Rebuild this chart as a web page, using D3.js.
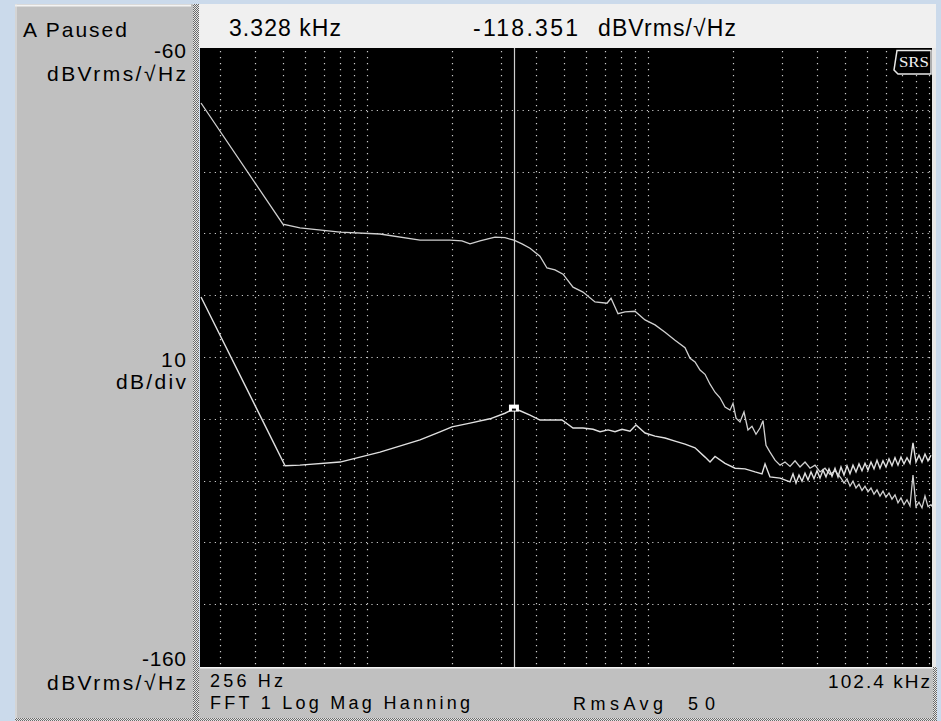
<!DOCTYPE html>
<html><head><meta charset="utf-8">
<script src="https://cdn.jsdelivr.net/npm/d3@7/dist/d3.min.js"></script>
<style>html,body{margin:0;padding:0;background:#cbdaeb;}svg{display:block;}</style>
</head><body>
<script>
// ---- data ----
const freqDomain = [256, 102400];
const dbDomain = [-60, -160];
const freqGrid = [300,400,500,600,700,800,900,1000,2000,3000,4000,5000,6000,7000,8000,9000,10000,20000,30000,40000,50000,60000,70000,80000,90000,100000];
const dbGrid = [-70,-80,-90,-100,-110,-120,-130,-140,-150];
const cursorFreq = 3328;
const cursorDb = -118.351;

const topFreq = [256,501,576,800,1110,1541,1970,2173,2322,2519,2849,3092,3328,3556,3797,4119,4363,4659,4977,5401,5860,6466,7137,7376,7810,8268,8975,9746,10578,11482,12462,13527,14093,14682,15296,15936,16602,17296,18020,18773,19558,20045,20549,21222,21931,22659,23414,24200,25006,25626,26270,27140,28283,29471,30700,31980,33320,34710,36170,37680,39250,40890,42600,44380,46240,48573,49782,51021,52291,53592,54926,56293,57694,59130,60602,62110,63656,65240,66864,68528,70234,71982,73774,75610,77492,79421,81398,83424,85500,87628,89809,92044,94335,96683,99090,101556,102400];
const topDb = [-68.9,-88.5,-89.1,-89.8,-90.1,-91.1,-91.1,-91.2,-91.7,-91.2,-90.6,-90.7,-91.1,-91.7,-92.4,-93.7,-95.6,-95.9,-96.6,-98.7,-99.5,-101.1,-101.3,-100.5,-103.0,-102.7,-102.6,-104.0,-104.8,-106.0,-107.3,-108.5,-110.2,-110.8,-112.1,-112.8,-114.4,-115.7,-116.6,-118.1,-118.6,-117.5,-119.9,-120.5,-118.9,-121.8,-121.2,-122.5,-121.5,-120.3,-124.3,-125.4,-126.7,-127.5,-127.0,-127.7,-126.8,-127.8,-127.0,-128.0,-127.5,-128.6,-128.0,-129.0,-128.4,-129.6,-130.4,-129.7,-130.9,-130.1,-131.2,-130.6,-131.6,-130.9,-131.8,-131.2,-132.2,-131.5,-132.5,-131.7,-132.7,-132.0,-133.0,-132.3,-133.6,-132.8,-133.9,-133.1,-134.1,-129.1,-134.2,-133.5,-134.4,-132.5,-134.2,-133.9,-134.2];

const botFreq = [256,510,576,800,1110,1541,1815,2003,2322,2735,3092,3328,3497,3797,4119,4473,4935,5401,5860,6364,6740,7197,7619,8069,8617,9050,9746,10578,11482,12462,13527,14682,15936,16602,17296,18773,20380,22120,24010,25420,26060,27140,29471,31980,32776,33592,34428,35285,36163,37063,37985,38931,39900,40893,41911,42954,44023,45119,46242,47393,48573,49782,51021,52291,53592,54926,56293,57694,59130,60602,62110,63656,65240,66864,68528,70234,71982,73774,75610,77492,79421,81398,83424,85500,87628,89809,92044,94335,96683,99090,101556];
const botDb = [-100.3,-127.6,-127.5,-127.0,-125.4,-123.4,-122.1,-121.3,-120.7,-120.0,-119.1,-118.4,-118.7,-119.4,-120.2,-120.2,-120.2,-121.5,-121.5,-121.7,-122.1,-121.8,-122.1,-121.7,-122.0,-121.0,-122.3,-122.8,-123.1,-123.6,-124.1,-124.7,-126.2,-127.0,-126.1,-127.2,-128.0,-128.1,-128.6,-128.9,-127.3,-129.4,-129.6,-130.2,-128.9,-130.4,-129.1,-130.1,-128.8,-129.9,-128.6,-129.7,-128.4,-129.6,-128.3,-129.4,-128.1,-129.3,-128.0,-129.4,-127.8,-129.1,-127.6,-128.9,-127.5,-128.6,-127.3,-128.4,-127.2,-128.3,-127.0,-128.1,-126.7,-128.0,-126.8,-127.8,-126.5,-127.6,-126.3,-127.5,-126.2,-127.3,-126.3,-127.2,-123.9,-127.0,-125.9,-127.0,-125.7,-126.8,-125.9];

const headerTexts = ["3.328 kHz", "-118.351", "dBVrms/\u221AHz"];
const leftTexts = ["A Paused", "-60", "dBVrms/\u221AHz", "10", "dB/div", "-160", "dBVrms/\u221AHz"];
const bottomTexts = ["256 Hz", "FFT 1 Log Mag Hanning", "RmsAvg", "50", "102.4 kHz"];

// ---- drawing ----
const W = 941, H = 721;
const P = {l: 201, r: 932, t: 48, b: 666};
const FONT = "'Liberation Sans', Arial, sans-serif";

const svg = d3.select("body").append("svg").attr("width", W).attr("height", H);
const defs = svg.append("defs");
const pat = defs.append("pattern").attr("id", "chk").attr("width", 2).attr("height", 2).attr("patternUnits", "userSpaceOnUse");
pat.append("rect").attr("width", 2).attr("height", 2).attr("fill", "#e6e6e6");
pat.append("rect").attr("width", 1).attr("height", 1).attr("fill", "#6a6a6a");
pat.append("rect").attr("x", 1).attr("y", 1).attr("width", 1).attr("height", 1).attr("fill", "#6a6a6a");

svg.append("rect").attr("width", W).attr("height", H).attr("fill", "#cbdaeb");

// left panel
svg.append("rect").attr("x", 15).attr("y", 4).attr("width", 179).attr("height", 717).attr("fill", "#c0c0c0");
svg.append("path").attr("d", "M15,5.5 H191").attr("stroke", "#f4f4f4").attr("stroke-width", 2);
svg.append("path").attr("d", "M16,4 V718").attr("stroke", "#e8e8e8").attr("stroke-width", 1);
svg.append("rect").attr("x", 193).attr("y", 4).attr("width", 6).attr("height", 717).attr("fill", "url(#chk)");
svg.append("rect").attr("x", 15).attr("y", 718).attr("width", 922).attr("height", 3).attr("fill", "url(#chk)");

// header
svg.append("rect").attr("x", 199).attr("y", 4).attr("width", 737).attr("height", 44).attr("fill", "#f0f0f0");
// bottom panel
svg.append("rect").attr("x", 199).attr("y", 667).attr("width", 734).attr("height", 51).attr("fill", "#c0c0c0");
svg.append("path").attr("d", "M200,667.5 H933").attr("stroke", "#f4f4f4").attr("stroke-width", 2);
svg.append("rect").attr("x", 933).attr("y", 667).attr("width", 4).attr("height", 54).attr("fill", "url(#chk)");
// right highlight of plot
svg.append("rect").attr("x", 932).attr("y", 48).attr("width", 4).attr("height", 619).attr("fill", "#e8e8e8");

// plot
svg.append("rect").attr("x", P.l - 1).attr("y", P.t).attr("width", P.r - P.l + 1).attr("height", P.b - P.t + 1).attr("fill", "#000");

const x = d3.scaleLog().domain(freqDomain).range([P.l, P.r]);
const y = d3.scaleLinear().domain(dbDomain).range([P.t, P.b]);

const grid = svg.append("g").attr("stroke", "#c8c8c8").attr("stroke-width", 1.2);
grid.selectAll("line.v").data(freqGrid).join("line")
  .attr("x1", d => Math.round(x(d)) + 0.5).attr("x2", d => Math.round(x(d)) + 0.5)
  .attr("y1", P.t + 3).attr("y2", P.b)
  .attr("stroke-dasharray", "1.2,4.8");
grid.selectAll("line.h").data(dbGrid).join("line")
  .attr("y1", d => Math.round(y(d)) + 0.5).attr("y2", d => Math.round(y(d)) + 0.5)
  .attr("x1", P.l + 3).attr("x2", P.r)
  .attr("stroke-dasharray", "1.2,4.2");

// cursor
svg.append("line").attr("x1", Math.round(x(cursorFreq)) + 0.5).attr("x2", Math.round(x(cursorFreq)) + 0.5)
  .attr("y1", P.t).attr("y2", P.b + 1).attr("stroke", "#cfcfcf").attr("stroke-width", 1.2);

const line = d3.line().x(d => x(d[0])).y(d => y(d[1]));
const topData = topFreq.map((f, i) => [f, topDb[i]]);
const botData = botFreq.map((f, i) => [f, botDb[i]]);
svg.append("path").attr("d", line(topData)).attr("fill", "none").attr("stroke", "#d0d0d0").attr("stroke-width", 1.3);
svg.append("path").attr("d", line(botData)).attr("fill", "none").attr("stroke", "#e0e0e0").attr("stroke-width", 1.4);

// marker
const mx = x(cursorFreq), my = y(cursorDb);
svg.append("rect").attr("x", mx - 5).attr("y", my - 4).attr("width", 10).attr("height", 7).attr("fill", "#fff");
svg.append("rect").attr("x", mx - 2).attr("y", my).attr("width", 4).attr("height", 2).attr("fill", "#000");

// SRS logo
svg.append("path").attr("d", "M897,50.5 H931 V74 H898 L894,70 Z").attr("fill", "#000").attr("stroke", "#e8e8e8").attr("stroke-width", 1.5);
svg.append("text").attr("x", 914).attr("y", 67).attr("text-anchor", "middle").attr("fill", "#f0f0f0")
  .attr("font-family", "'Liberation Serif', 'Times New Roman', serif").attr("font-size", 14).attr("textLength", 30).attr("lengthAdjust", "spacingAndGlyphs").text("SRS");

function txt(s, xx, yy, opts) {
  const t = svg.append("text").attr("x", xx).attr("y", yy).attr("font-family", FONT)
    .attr("font-size", opts.size || 19).attr("fill", "#000").text(s);
  if (opts.anchor) t.attr("text-anchor", opts.anchor);
  if (opts.len) t.attr("textLength", opts.len).attr("lengthAdjust", "spacing");
  return t;
}

// header texts
txt(headerTexts[0], 229, 36, {size: 23, len: 112});
txt(headerTexts[1], 473, 36, {size: 23, len: 105});
txt(headerTexts[2], 598, 36, {size: 23, len: 138});

// left texts
txt(leftTexts[0], 23, 37, {size: 21, len: 104});
txt(leftTexts[1], 186, 58, {size: 21, anchor: "end", len: 32});
txt(leftTexts[2], 186, 81, {size: 21, anchor: "end", len: 139});
txt(leftTexts[3], 186, 367, {size: 21, anchor: "end", len: 25});
txt(leftTexts[4], 186, 389, {size: 21, anchor: "end", len: 70});
txt(leftTexts[5], 186, 666, {size: 21, anchor: "end", len: 44});
txt(leftTexts[6], 186, 690, {size: 21, anchor: "end", len: 139});

// bottom texts
txt(bottomTexts[0], 210, 687, {size: 18, len: 73});
txt(bottomTexts[1], 210, 709, {size: 18, len: 260});
txt(bottomTexts[2], 573, 710, {size: 18, len: 90});
txt(bottomTexts[3], 688, 710, {size: 18, len: 27});
txt(bottomTexts[4], 930, 688, {size: 19, anchor: "end", len: 102});
</script>
</body></html>
